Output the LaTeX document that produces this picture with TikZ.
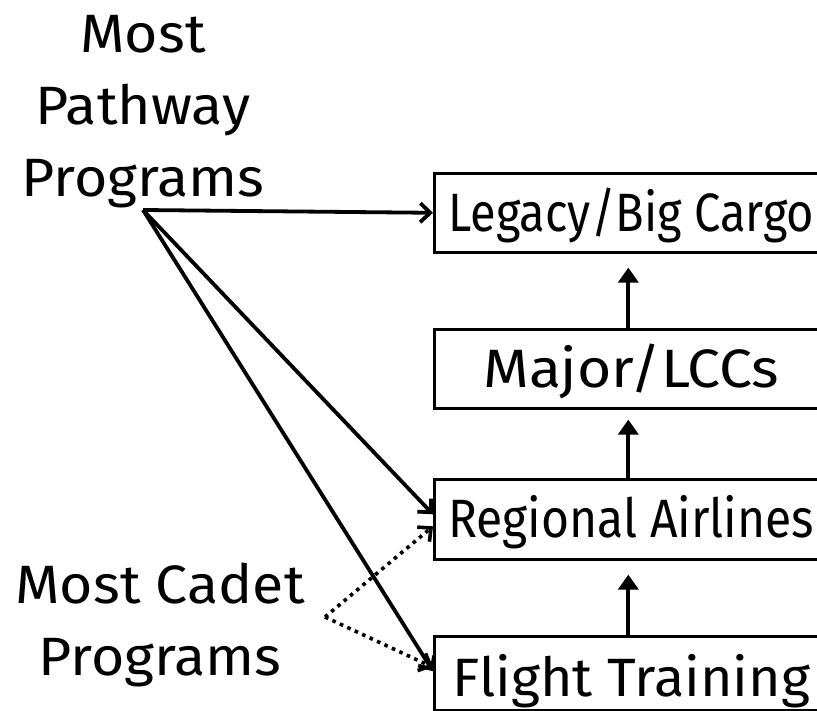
\documentclass[tikz,border=0pt]{standalone}
\usepackage{fontspec}
\setmainfont{Fira Sans}
\usetikzlibrary{arrows.meta,calc}

% type set at one size, stretched per text
\newcommand{\stagefont}[1]{\fontsize{54}{60}\selectfont\addfontfeatures{FakeStretch=#1}}

\tikzset{
  stage/.style={draw, line width=2.6pt, minimum width=394pt, minimum height=79pt,
    inner sep=0pt, text height=37pt, text depth=0pt, anchor=north west},
  label/.style={align=center, inner sep=0pt,
    font=\fontsize{54}{72}\selectfont\addfontfeatures{FakeStretch=1.06}},
  path arrow/.style={line width=3.8pt, -{Straight Barb[length=10pt,width=19pt,line width=3.8pt]}},
  cadet arrow/.style={line width=3.6pt, dash pattern=on 3.6pt off 4.6pt,
    -{Straight Barb[length=10pt,width=19pt,line width=3.6pt]}},
  climb/.style={line width=4pt, -{Triangle[length=15pt,width=20pt]}},
}

\begin{document}
\begin{tikzpicture}[x=1pt,y=-1pt]
  \useasboundingbox (0,0) rectangle (817,711);

  % career stages
  \node[stage, font=\stagefont{0.87}] (legacy)   at (433,172) {Legacy/Big Cargo};
  \node[stage, font=\stagefont{1.09}] (major)    at (433,328) {Major/LCCs};
  \node[stage, font=\stagefont{0.89}, minimum height=80pt] (regional) at (433,478) {Regional Airlines};
  \node[stage, font=\stagefont{1.03}, minimum height=74pt, text height=46pt] (flight) at (433,635) {Flight Training};

  % progression between stages
  \draw[climb] ([xshift=-3pt]flight.north)   -- ([xshift=-3pt,yshift=-14pt]regional.south);
  \draw[climb] ([xshift=-3pt]regional.north) -- ([xshift=-3pt,yshift=-10pt]major.south);
  \draw[climb] ([xshift=-3pt]major.north)    -- ([xshift=-3pt,yshift=-14pt]legacy.south);

  % program types
  \node[label, anchor=north] (pathway) at (143,15) {Most\\Pathway\\Programs};
  \node[label, anchor=north] (cadet)   at (160,563) {Most Cadet\\Programs};

  \coordinate (pw) at (143,210);
  \coordinate (cd) at (325,617);

  \draw[path arrow] (pw) -- (legacy.west);
  \draw[path arrow] (pw) -- ([yshift=5pt]regional.west);
  \draw[path arrow] (pw) -- ([yshift=2pt]flight.west);
  \draw[cadet arrow] (cd) -- ([yshift=-7pt]regional.west);
  \draw[cadet arrow] (cd) -- ([yshift=6pt]flight.west);
\end{tikzpicture}
\end{document}
